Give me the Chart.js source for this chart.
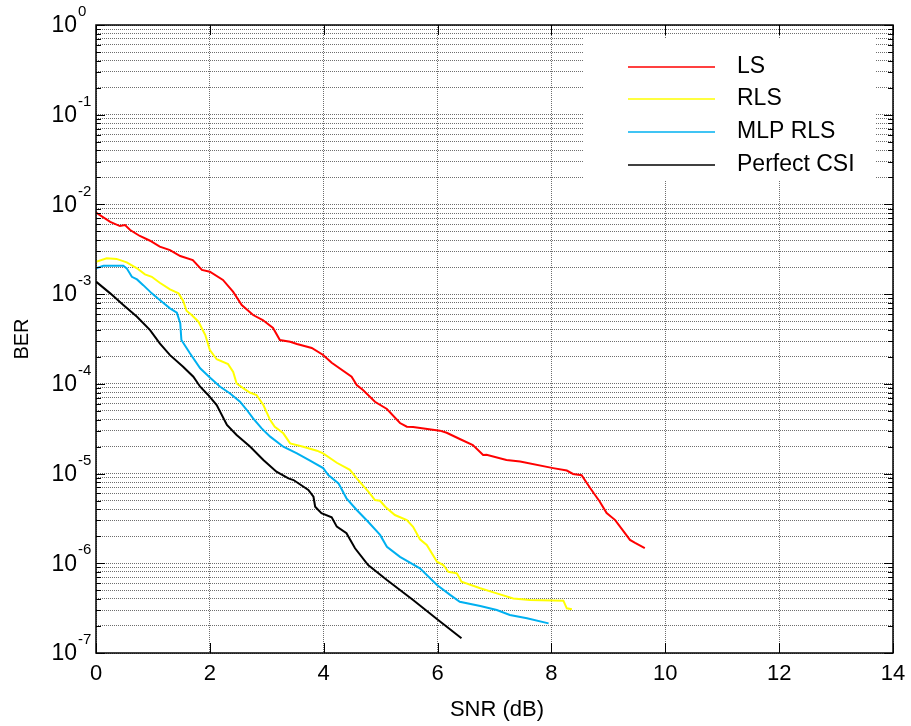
<!DOCTYPE html>
<html>
<head>
<meta charset="utf-8">
<script src="https://cdn.jsdelivr.net/npm/chart.js@4.4.1/dist/chart.umd.min.js"></script>
<style>
html, body { margin: 0; padding: 0; background: #fff; }
canvas { display: block; }
</style>
</head>
<body>
<canvas id="ber" width="911" height="726"></canvas>
<script>
// series (SNR in dB, BER)
const seriesNames = ['LS', 'RLS', 'MLP RLS', 'Perfect CSI'];
const seriesColors = ['#ff0000', '#ffff00', '#00b0f0', '#000000'];

const lsSnr = [0, 0.25, 0.42, 0.51, 0.6, 0.77, 0.95, 1.12, 1.3, 1.48, 1.7, 1.86, 2.0, 2.23, 2.41, 2.56, 2.76, 2.93, 3.11, 3.23, 3.41, 3.53, 3.79, 3.99, 4.14, 4.49, 4.58, 4.69, 4.9, 5.11, 5.34, 5.46, 5.57, 6.04, 6.16, 6.39, 6.62, 6.8, 6.86, 7.21, 7.45, 8.03, 8.27, 8.38, 8.53, 8.68, 8.85, 8.97, 9.12, 9.38, 9.47, 9.64];
const lsBer = [8.1e-3, 6.4e-3, 5.74e-3, 5.9e-3, 5.19e-3, 4.45e-3, 3.94e-3, 3.38e-3, 3.1e-3, 2.66e-3, 2.4e-3, 1.86e-3, 1.78e-3, 1.44e-3, 1.06e-3, 7.57e-4, 5.85e-4, 5.15e-4, 4.19e-4, 3.08e-4, 2.95e-4, 2.78e-4, 2.51e-4, 2.1e-4, 1.72e-4, 1.2e-4, 9.7e-5, 8.53e-5, 6.32e-5, 5.25e-5, 3.66e-5, 3.33e-5, 3.3e-5, 3.01e-5, 2.85e-5, 2.43e-5, 2.08e-5, 1.61e-5, 1.62e-5, 1.42e-5, 1.36e-5, 1.15e-5, 1.08e-5, 9.9e-6, 9.6e-6, 6.9e-6, 4.85e-6, 3.63e-6, 3.03e-6, 1.82e-6, 1.69e-6, 1.48e-6];

const rlsSnr = [0, 0.19, 0.36, 0.54, 0.72, 0.86, 0.98, 1.12, 1.3, 1.45, 1.53, 1.59, 1.68, 1.8, 1.92, 2.0, 2.12, 2.32, 2.41, 2.47, 2.59, 2.71, 2.82, 2.94, 3.06, 3.14, 3.29, 3.41, 3.64, 3.88, 3.99, 4.23, 4.46, 4.58, 4.81, 4.9, 4.99, 5.08, 5.25, 5.46, 5.57, 5.69, 5.81, 5.99, 6.1, 6.19, 6.34, 6.42, 6.75, 7.04, 7.33, 7.62, 8.21, 8.27, 8.36];
const rlsBer = [2.3e-3, 2.51e-3, 2.47e-3, 2.26e-3, 1.94e-3, 1.66e-3, 1.56e-3, 1.34e-3, 1.13e-3, 1.02e-3, 8.45e-4, 6.53e-4, 5.85e-4, 4.93e-4, 3.5e-4, 2.38e-4, 1.88e-4, 1.66e-4, 1.36e-4, 1.01e-4, 8.9e-5, 7.96e-5, 7.52e-5, 5.81e-5, 3.95e-5, 3.33e-5, 2.81e-5, 2.17e-5, 1.99e-5, 1.8e-5, 1.68e-5, 1.32e-5, 1.1e-5, 8.85e-6, 6.03e-6, 5.07e-6, 4.98e-6, 4.27e-6, 3.45e-6, 3.03e-6, 2.55e-6, 1.85e-6, 1.6e-6, 1.04e-6, 9.57e-7, 8.05e-7, 7.73e-7, 6.22e-7, 5.26e-7, 4.62e-7, 4.06e-7, 3.89e-7, 3.83e-7, 3.15e-7, 3.07e-7];

const mlpSnr = [0, 0.13, 0.3, 0.48, 0.54, 0.63, 0.72, 0.83, 0.98, 1.12, 1.3, 1.42, 1.48, 1.5, 1.65, 1.83, 2.0, 2.18, 2.35, 2.53, 2.65, 2.76, 2.91, 3.06, 3.29, 3.53, 3.76, 3.99, 4.08, 4.26, 4.4, 4.58, 4.78, 4.99, 5.11, 5.34, 5.69, 5.99, 6.22, 6.39, 6.75, 7.04, 7.27, 7.57, 7.95];
const mlpBer = [1.94e-3, 2.07e-3, 2.07e-3, 2.07e-3, 1.94e-3, 1.56e-3, 1.46e-3, 1.26e-3, 1.02e-3, 8.61e-4, 6.95e-4, 6.21e-4, 4.73e-4, 3.08e-4, 2.19e-4, 1.49e-4, 1.18e-4, 9.29e-5, 7.85e-5, 6.32e-5, 5.11e-5, 4.13e-5, 3.19e-5, 2.58e-5, 1.99e-5, 1.68e-5, 1.39e-5, 1.15e-5, 9.64e-6, 7.78e-6, 5.3e-6, 3.93e-6, 2.9e-6, 2.07e-6, 1.53e-6, 1.18e-6, 8.79e-7, 5.73e-7, 4.44e-7, 3.73e-7, 3.34e-7, 3.01e-7, 2.65e-7, 2.44e-7, 2.14e-7];

const csiSnr = [0, 0.25, 0.48, 0.72, 0.95, 1.12, 1.3, 1.53, 1.71, 1.83, 1.97, 2.12, 2.3, 2.47, 2.71, 2.94, 3.17, 3.38, 3.47, 3.73, 3.82, 3.85, 3.96, 4.14, 4.23, 4.4, 4.55, 4.78, 5.11, 5.57, 6.01, 6.42];
const csiBer = [1.38e-3, 1.02e-3, 7.57e-4, 5.6e-4, 3.98e-4, 2.83e-4, 2.09e-4, 1.55e-4, 1.2e-4, 9.29e-5, 7.52e-5, 5.81e-5, 3.48e-5, 2.69e-5, 1.99e-5, 1.42e-5, 1.05e-5, 8.85e-6, 8.47e-6, 6.56e-6, 5.52e-6, 4.27e-6, 3.61e-6, 3.25e-6, 2.56e-6, 2.16e-6, 1.47e-6, 9.57e-7, 6.5e-7, 3.89e-7, 2.33e-7, 1.46e-7];

const xTicks = [0, 2, 4, 6, 8, 10, 12, 14];
const yDecades = [-7, -6, -5, -4, -3, -2, -1, 0];

const FONT = '"Liberation Sans", Arial, sans-serif';

// every 1..9 x 10^k between 1e-7 and 1, for the dotted grid
const yGrid = [];
yDecades.forEach(k => {
    for (let m = 1; m <= 9; m++) {
        const v = m * Math.pow(10, k);
        if (v <= 1.0000001) yGrid.push(v);
    }
});

function pairs(snr, ber) {
    return snr.map((x, i) => ({ x: x, y: ber[i] }));
}

const curves = [pairs(lsSnr, lsBer), pairs(rlsSnr, rlsBer), pairs(mlpSnr, mlpBer), pairs(csiSnr, csiBer)];

const gridOpts = { color: '#6e6e6e', lineWidth: 1, drawTicks: false };
const borderOpts = { display: false, dash: [1, 1] };

// frame, inner tick marks, tick labels, axis titles and the legend box
const decorations = {
    id: 'decorations',
    afterDraw(chart) {
        const ctx = chart.ctx;
        const area = chart.chartArea;
        const xs = chart.scales.x;
        const ys = chart.scales.y;

        ctx.save();
        ctx.strokeStyle = '#000';
        ctx.lineWidth = 1;

        // tick marks on left and right edges
        yGrid.forEach(v => {
            const y = Math.round(ys.getPixelForValue(v)) + 0.5;
            const major = yDecades.some(k => Math.abs(Math.log10(v) - k) < 1e-6);
            const len = major ? 9 : 5;
            ctx.beginPath();
            ctx.moveTo(area.left, y); ctx.lineTo(area.left + len, y);
            ctx.moveTo(area.right, y); ctx.lineTo(area.right - len, y);
            ctx.stroke();
        });
        xTicks.forEach(v => {
            const x = Math.round(xs.getPixelForValue(v)) + 0.5;
            ctx.beginPath();
            ctx.moveTo(x, area.bottom); ctx.lineTo(x, area.bottom - 10);
            ctx.moveTo(x, area.top); ctx.lineTo(x, area.top + 10);
            ctx.stroke();
        });

        ctx.lineWidth = 1.5;
        ctx.strokeRect(area.left, area.top, area.right - area.left, area.bottom - area.top);

        // y tick labels: 10 with raised exponent
        ctx.fillStyle = '#000';
        ctx.textBaseline = 'middle';
        yDecades.forEach(k => {
            const y = ys.getPixelForValue(Math.pow(10, k));
            ctx.font = '23px ' + FONT;
            ctx.textAlign = 'right';
            ctx.fillText('10', 77, y + 1);
            ctx.font = '15px ' + FONT;
            ctx.textAlign = 'left';
            ctx.fillText(String(k), 78, y - 13);
        });

        // x tick labels
        ctx.font = '22px ' + FONT;
        ctx.textAlign = 'center';
        xTicks.forEach(v => {
            ctx.fillText(String(v), xs.getPixelForValue(v), 674);
        });

        // axis titles
        ctx.fillText('SNR (dB)', 497, 710);
        ctx.save();
        ctx.translate(22, 339);
        ctx.rotate(-Math.PI / 2);
        ctx.font = '20px ' + FONT;
        ctx.fillText('BER', 0, 0);
        ctx.restore();

        // legend
        ctx.fillStyle = '#fff';
        ctx.fillRect(583, 38, 293, 143);
        const rows = [67, 99, 132, 165];
        ctx.font = '23px ' + FONT;
        ctx.textAlign = 'left';
        seriesNames.forEach((name, i) => {
            ctx.strokeStyle = seriesColors[i];
            ctx.lineWidth = 1.5;
            ctx.beginPath();
            ctx.moveTo(628, rows[i]); ctx.lineTo(715, rows[i]);
            ctx.stroke();
            ctx.fillStyle = '#000';
            ctx.fillText(name, 737, rows[i]);
        });
        ctx.restore();
    }
};

new Chart(document.getElementById('ber'), {
    type: 'line',
    data: {
        datasets: curves.map((pts, i) => ({
            label: seriesNames[i],
            data: pts,
            borderColor: seriesColors[i],
            backgroundColor: seriesColors[i],
            borderWidth: 2,
            pointRadius: 0,
            tension: 0,
            fill: false
        }))
    },
    options: {
        responsive: false,
        animation: false,
        devicePixelRatio: 1,
        layout: { padding: { left: 0, top: 25, right: 18, bottom: 0 } },
        plugins: { legend: { display: false }, tooltip: { enabled: false } },
        scales: {
            x: {
                type: 'linear', min: 0, max: 14,
                ticks: { display: false, stepSize: 2 },
                grid: gridOpts, border: borderOpts,
                afterFit(s) { s.height = 73; }
            },
            y: {
                type: 'logarithmic', min: 1e-7, max: 1,
                ticks: { display: false },
                afterBuildTicks(s) { s.ticks = yGrid.map(v => ({ value: v })); },
                grid: gridOpts, border: borderOpts,
                afterFit(s) { s.width = 96; }
            }
        }
    },
    plugins: [decorations]
});
</script>
</body>
</html>
